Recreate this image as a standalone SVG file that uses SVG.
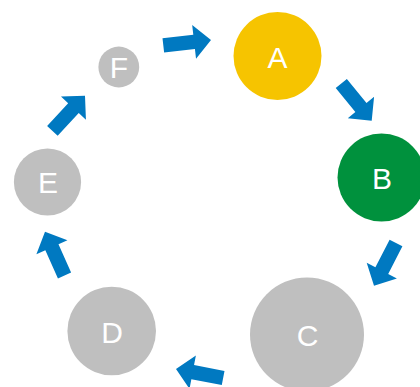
<svg xmlns="http://www.w3.org/2000/svg" width="420" height="387" viewBox="0 0 420 387">
<style>
.lbl{font-family:"Liberation Sans",Arial,sans-serif;font-size:30px;fill:#FFFFFF;text-anchor:middle}
.gray{fill:#BFBFBF}
.arr{fill:#0079C1}
</style>
<defs>
<path id="arrow" d="M0,0 L-17,-17 L-17,-7.2 L-48,-7.2 L-48,7.2 L-17,7.2 L-17,17 Z"/>
</defs>
<rect width="420" height="387" fill="#FFFFFF"/>
<g id="connectors" class="arr">
<use href="#arrow" transform="translate(211,40) rotate(-6.5)"/>
<use href="#arrow" transform="translate(371.7,120.7) rotate(50.7)"/>
<use href="#arrow" transform="translate(374,285.7) rotate(117.3)"/>
<use href="#arrow" transform="translate(176,369) rotate(190.8)"/>
<use href="#arrow" transform="translate(45,231.7) rotate(-114)"/>
<use href="#arrow" transform="translate(85,95.7) rotate(-47.2)"/>
</g>
<g id="node-A"><circle cx="277.5" cy="56" r="44" fill="#F6C400"/><text class="lbl" x="277.5" y="67.5">A</text></g>
<g id="node-B"><circle cx="381.5" cy="177.5" r="44" fill="#00913D"/><text class="lbl" x="382" y="189">B</text></g>
<g id="node-C"><circle class="gray" cx="307" cy="334.5" r="57"/><text class="lbl" x="307.5" y="345.5">C</text></g>
<g id="node-D"><circle class="gray" cx="111.7" cy="331" r="44.3"/><text class="lbl" x="112" y="342.5">D</text></g>
<g id="node-E"><circle class="gray" cx="47.5" cy="182" r="33.6"/><text class="lbl" x="48" y="193">E</text></g>
<g id="node-F"><circle class="gray" cx="118.8" cy="67" r="20.4"/><text class="lbl" x="119" y="78.3">F</text></g>
</svg>
